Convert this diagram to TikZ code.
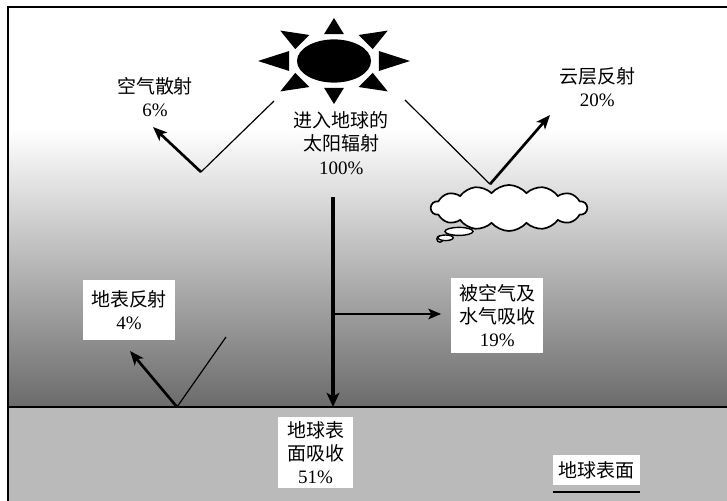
\documentclass[tikz,border=0pt]{standalone}
\usepackage{fontspec}
\setmainfont{Liberation Serif}
\newfontfamily\cjk{Noto Sans CJK SC}
\usetikzlibrary{arrows.meta,shapes.symbols,calc}

\begin{document}
\begin{tikzpicture}[
		font=\fontsize{13.5}{16.5}\selectfont,
		ray/.style={line width=.85pt},
		refl/.style={line width=1.9pt,-{Stealth[length=10pt,width=8pt,inset=2.5pt]}},
		lbl/.style={align=center,inner sep=2pt},
		box/.style={fill=white,align=center,inner sep=3pt}]
		\useasboundingbox (0,0) rectangle (18.175,12.525);
		\fill[white] (0,0) rectangle (18.175,12.525);
		\shade[top color=white,middle color=black!30,bottom color=black!58] (.2,9.3) rectangle (18.175,2.35);
		\fill[black!27] (.2,0) rectangle (18.175,2.35);
		\draw[line width=.9pt] (.2,0) -- (.2,12.35) -- (18.175,12.35);
		\draw[line width=1.1pt] (.2,2.35) -- (18.175,2.35);
		% sun
		\coordinate (sun) at (8.35,11.0);
		\fill (sun) ellipse (.925 and .54);
		\foreach \a in {0,45,...,315}
			\fill ($(sun)+({1.9*cos(\a)},{1.075*sin(\a)})$) -- ($(sun)+({1.12*cos(\a)-.25*sin(\a)},{.67*sin(\a)+.25*cos(\a)})$) -- ($(sun)+({1.12*cos(\a)+.25*sin(\a)},{.67*sin(\a)-.25*cos(\a)})$) -- cycle;
		\node[lbl] (incoming) at (8.53,8.95) {{\cjk 进入地球的}\\{\cjk 太阳辐射}\\100\%};
		\node[lbl] (scatter) at (3.875,10.1) {{\cjk 空气散射}\\6\%};
		\node[lbl] (cloudref) at (14.93,10.35) {{\cjk 云层反射}\\20\%};
		% cloud
		\filldraw[fill=white,line width=1pt] (11.0,6.55) circle (.08);
		\filldraw[fill=white,line width=1pt] (11.14,6.58) ellipse (.19 and .07);
		\filldraw[fill=white,line width=1pt] (11.475,6.74) ellipse (.35 and .1);
		\node[cloud,draw,fill=white,line width=1.2pt,cloud puffs=14,cloud puff arc=100,aspect=3.4,minimum width=3.9cm,minimum height=1.15cm,inner sep=0pt] (cloud) at (12.725,7.325) {};
		\node[box,minimum width=2.3cm,minimum height=1.875cm] (absorbed) at (12.43,4.64) {{\cjk 被空气及}\\{\cjk 水气吸收}\\19\%};
		\node[box,minimum width=2.3cm,minimum height=1.5cm] (surfref) at (3.225,4.775) {{\cjk 地表反射}\\4\%};
		\node[box,minimum width=1.875cm,minimum height=1.725cm] (ground) at (7.89,1.21) {{\cjk 地球表}\\{\cjk 面吸收}\\51\%};
		\node[box,minimum width=2.175cm,minimum height=.75cm] (surface) at (14.91,.775) {\cjk 地球表面};
		\draw[line width=1.3pt] ([yshift=-5pt]surface.south west) -- ([yshift=-5pt]surface.south east);
		% rays
		\coordinate (s1) at (6.85,10.0);
		\coordinate (s2) at (5.025,8.225);
		\coordinate (s3) at (3.825,9.35);
		\draw[ray] (s1) -- (s2);
		\draw[refl] (s2) -- (s3);
		\coordinate (c1) at (10.125,10.025);
		\coordinate (c2) at (12.25,7.92);
		\coordinate (c3) at (13.75,9.65);
		\draw[ray] (c1) -- (c2);
		\draw[refl] (c2) -- (c3);
		\coordinate (g1) at (5.65,4.1);
		\coordinate (g2) at (4.425,2.35);
		\coordinate (g3) at (3.25,3.75);
		\draw[ray] (g1) -- (g2);
		\draw[refl] (g2) -- (g3);
		\coordinate (v1) at (8.325,7.6);
		\coordinate (v2) at (8.325,2.35);
		\coordinate (branch) at (8.325,4.675);
		\draw[line width=2.8pt,-{Stealth[length=10pt,width=9pt,inset=2.5pt]}] (v1) -- (v2);
		\draw[line width=1.4pt,-{Stealth[length=9pt,width=7.5pt,inset=2pt]},shorten >=7pt] (branch) -- (branch -| absorbed.west);
	\end{tikzpicture}
\end{document}
